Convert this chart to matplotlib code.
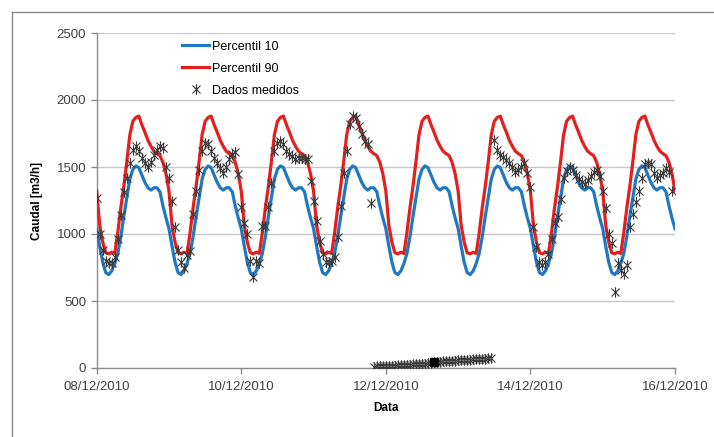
import numpy as np
import pandas as pd
import matplotlib
matplotlib.use("Agg")
import matplotlib.pyplot as plt
import matplotlib.dates as mdates
from matplotlib.lines import Line2D
from matplotlib.path import Path

# perfil horario diario dos percentis (h0..h23)
p10_dia = [1040, 910, 790, 712, 697, 725, 780, 855, 980, 1130, 1270, 1410,
           1482, 1508, 1495, 1440, 1385, 1345, 1328, 1345, 1345, 1315, 1210, 1120]
p90_dia = [1320, 1065, 940, 860, 852, 864, 855, 1010, 1195, 1355, 1540, 1740,
           1841, 1870, 1880, 1815, 1760, 1700, 1655, 1618, 1600, 1585, 1535, 1450]
n_dias = 8

# dados medidos (valores horarios)
med_bloco1 = [  # 08/12 00h .. 11/12 19h
    1270, 1000, 880, 800, 780, 780, 830, 960, 1140, 1310, 1420, 1530,
    1630, 1660, 1620, 1570, 1530, 1500, 1540, 1590, 1630, 1660, 1640, 1500,
    1420, 1250, 1050, 880, 790, 745, 840, 870, 1150, 1320, 1480, 1620,
    1680, 1670, 1620, 1570, 1530, 1494, 1457, 1500, 1560, 1595, 1610, 1450,
    1200, 1085, 1000, 800, 676, 800, 780, 1060, 1060, 1200, 1380, 1620,
    1680, 1693, 1670, 1620, 1600, 1580, 1560, 1565, 1568, 1560, 1560, 1396,
    1250, 1100, 950, 850, 790, 790, 800, 830, 980, 1210, 1457, 1620,
    1820, 1880, 1865, 1805, 1745, 1693, 1670, 1235]
med_bloco2 = [  # 11/12 20h .. 13/12 11h (leituras erradas perto de zero)
    10, 12, 12, 14, 15, 16, 18, 18, 20, 22, 23, 24, 26, 27, 28, 30, 31, 33, 35, 37,
    45, 46, 48, 50, 51, 52, 54, 55, 57, 58, 60, 61, 62, 64, 65, 67, 68, 70, 72, 75]
med_bloco3 = [  # 13/12 12h .. 15/12 23h
    1700, 1627, 1590, 1575, 1550, 1530, 1500, 1460, 1480, 1500, 1530, 1455,
    1350, 1050, 900, 790, 770, 790, 850, 960, 1080, 1130, 1260, 1420,
    1470, 1500, 1477, 1440, 1410, 1385, 1370, 1400, 1430, 1460, 1480, 1430,
    1320, 1197, 1000, 930, 565, 780, 730, 705, 765, 1050, 1150, 1240,
    1320, 1418, 1520, 1530, 1520, 1455, 1418, 1440, 1455, 1490, 1460, 1320]
quadrado_hora = 112
quadrado_valor = 42

inicio = pd.Timestamp("2010-12-08")
horas_perc = pd.date_range(inicio, periods=24 * n_dias + 1, freq="h")
p10 = np.append(np.tile(p10_dia, n_dias), p10_dia[0])
p90 = np.append(np.tile(p90_dia, n_dias), p90_dia[0])

med_valores = med_bloco1 + med_bloco2 + med_bloco3
med_horas = pd.date_range(inicio, periods=len(med_valores), freq="h")

# marcador tipo Excel: X com traco vertical
star = Path([(-1, -1), (1, 1), (-1, 1), (1, -1), (0, -1.3), (0, 1.3)],
            [Path.MOVETO, Path.LINETO] * 3)

plt.rcParams["font.family"] = ["Liberation Sans", "DejaVu Sans"]
fig = plt.figure(figsize=(7.14, 4.37), dpi=100)
ax = fig.add_axes([96.7 / 714, 1 - 368 / 437, (675 - 96.7) / 714, 335 / 437])

ax.plot(horas_perc, p10, color="#1f78c1", lw=2.3, label="Percentil 10", zorder=3)
ax.plot(horas_perc, p90, color="#e4201f", lw=2.3, label="Percentil 90", zorder=3)
ax.plot(med_horas, med_valores, ls="none", marker=star, ms=7.5, mew=0.8,
        color="#3a3a3a", label="Dados medidos", zorder=4)
ax.plot([inicio + pd.Timedelta(hours=quadrado_hora)], [quadrado_valor], ls="none",
        marker="s", ms=6, color="black", zorder=5)

ax.set_xlim(inicio, inicio + pd.Timedelta(days=n_dias))
ax.set_ylim(0, 2500)
ax.set_yticks(np.arange(0, 2501, 500))
ax.xaxis.set_major_locator(mdates.DayLocator(interval=2))
ax.xaxis.set_major_formatter(mdates.DateFormatter("%d/%m/%Y"))

ax.grid(axis="y", color="#c8c8c8", lw=1)
ax.set_axisbelow(True)
for s in ["top", "right"]:
    ax.spines[s].set_visible(False)
for s in ["left", "bottom"]:
    ax.spines[s].set_color("#8c8c8c")
    ax.spines[s].set_linewidth(1)
ax.tick_params(axis="both", colors="#8c8c8c", labelcolor="#404040",
               labelsize=9.5, length=4, width=1)
ax.tick_params(axis="x", pad=5)

ax.set_ylabel("Caudal [m3/h]", fontsize=8.5, fontweight="bold", labelpad=10)
ax.set_xlabel("Data", fontsize=8.5, fontweight="bold", labelpad=7)

ax.legend(loc="upper left", bbox_to_anchor=(0.1475, 0.977), frameon=False,
          borderpad=0, borderaxespad=0, handlelength=2.2, handletextpad=0.2,
          labelspacing=0.8, fontsize=9)

# moldura exterior do grafico
fig.add_artist(Line2D([12 / 714, 1], [1 - 12 / 437] * 2, color="#8c8c8c", lw=1))
fig.add_artist(Line2D([12 / 714] * 2, [0, 1 - 12 / 437], color="#8c8c8c", lw=1))

fig.savefig("out.png", dpi=100)
